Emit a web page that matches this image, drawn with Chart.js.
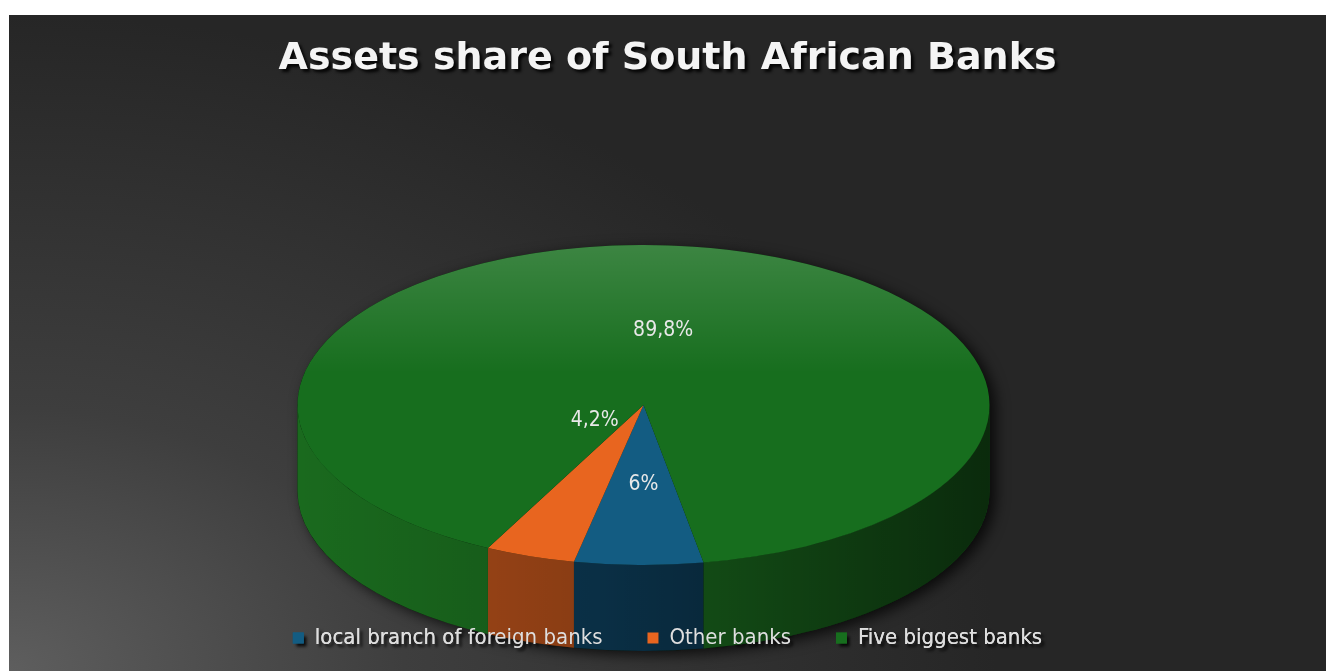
<!DOCTYPE html>
<html>
<head>
<meta charset="utf-8">
<script src="https://cdn.jsdelivr.net/npm/chart.js@4.4.1/dist/chart.umd.min.js"></script>
<style>
  html, body { margin: 0; padding: 0; background: #fff; }
  .chart-box {
    position: absolute; left: 9px; top: 15px; width: 1317px; height: 656px;
    background: radial-gradient(ellipse 75% 100% at 0% 100%, #5e5e5e 0%, #3e3e3e 40%, #262626 100%);
  }
</style>
</head>
<body>
<div class="chart-box"><canvas id="pieChart"></canvas></div>
<script>
const categories = ['local branch of foreign banks', 'Other banks', 'Five biggest banks'];
const shares = [6, 4.2, 89.8];
const shareLabels = ['6%', '4,2%', '89,8%'];

const topColors = ['#135c82', '#e8651f', '#176e1e'];
const sideColors = ['#0c3a55', '#a84a18', '#1a6a1e'];
// where each value label sits, as a fraction of the ellipse radii
const labelFx = [0, 0.43, 0.39];
const labelFy = [0.5, 0.1, 0.47];

// look of the tilted pie (canvas px)
const pie3d = { rx: 346, ry: 160, depth: 86, shiftX: -24, cy: 390 };

const pieChart = document.getElementById('pieChart');

function wallPath(ctx, x, y, r, d, s, e) {
    ctx.beginPath();
    ctx.arc(x, y, r, s, e);
    ctx.arc(x, y + d, r, e, s, true);
    ctx.closePath();
}

const pie3dPlugin = {
    id: 'pie3d',
    beforeDraw(chart) {
        // shadow for the title text
        const ctx = chart.ctx;
        ctx.save();
        ctx.shadowColor = 'rgba(0,0,0,0.85)';
        ctx.shadowOffsetX = 3;
        ctx.shadowOffsetY = 3;
        ctx.shadowBlur = 3;
    },
    beforeDatasetsDraw(chart) {
        const ctx = chart.ctx;
        ctx.restore();
        const arcs = chart.getDatasetMeta(0).data;
        const a0 = arcs[0];
        const R = a0.outerRadius;
        const sy = pie3d.ry / R;
        const d = pie3d.depth / sy;
        const x = a0.x, y = a0.y;

        ctx.save();
        ctx.translate(x + pie3d.shiftX, pie3d.cy);
        ctx.scale(pie3d.rx / R, sy);
        ctx.translate(-x, -y);

        // dark silhouette with drop shadow
        ctx.save();
        ctx.shadowColor = 'rgba(0,0,0,0.75)';
        ctx.shadowBlur = 14;
        ctx.shadowOffsetX = 6;
        ctx.shadowOffsetY = 4;
        ctx.beginPath();
        ctx.arc(x, y, R, Math.PI, 2 * Math.PI);
        ctx.arc(x, y + d, R, 0, Math.PI);
        ctx.closePath();
        ctx.fillStyle = '#0a1a0a';
        ctx.fill();
        ctx.restore();

        // side walls of each slice, front half only
        arcs.forEach((arc, i) => {
            const p = arc.getProps(['startAngle', 'endAngle'], true);
            [-2 * Math.PI, 0, 2 * Math.PI].forEach(base => {
                const s = Math.max(p.startAngle, base);
                const e = Math.min(p.endAngle, base + Math.PI);
                if (e > s) {
                    wallPath(ctx, x, y, R, d, s, e);
                    ctx.fillStyle = sideColors[i];
                    ctx.fill();
                }
            });
        });

        // shade the walls darker to the right
        const g = ctx.createLinearGradient(x - R, 0, x + R, 0);
        g.addColorStop(0, 'rgba(0,0,0,0)');
        g.addColorStop(0.45, 'rgba(0,0,0,0.2)');
        g.addColorStop(1, 'rgba(0,0,0,0.6)');
        wallPath(ctx, x, y, R, d, 0, Math.PI);
        ctx.fillStyle = g;
        ctx.fill();
        // top face is drawn next by Chart.js inside this transform
    },
    afterDatasetsDraw(chart) {
        const ctx = chart.ctx;
        const arcs = chart.getDatasetMeta(0).data;
        const a0 = arcs[0];
        const R = a0.outerRadius;
        const x = a0.x, y = a0.y;

        // soft light on the back of the top face
        ctx.save();
        ctx.beginPath();
        ctx.arc(x, y, R, 0, 2 * Math.PI);
        ctx.clip();
        const g = ctx.createLinearGradient(0, y - R, 0, y - 0.2 * R);
        g.addColorStop(0, 'rgba(255,255,255,0.16)');
        g.addColorStop(1, 'rgba(255,255,255,0)');
        ctx.fillStyle = g;
        ctx.fillRect(x - R, y - R, 2 * R, 0.8 * R);
        ctx.restore();

        ctx.restore(); // end of pie transform

        // value labels
        const cx = x + pie3d.shiftX;
        ctx.save();
        ctx.font = '21px "DejaVu Sans Condensed", "DejaVu Sans"';
        ctx.fillStyle = '#e8e8e8';
        ctx.textAlign = 'center';
        ctx.textBaseline = 'middle';
        arcs.forEach((arc, i) => {
            const p = arc.getProps(['startAngle', 'endAngle'], true);
            const mid = (p.startAngle + p.endAngle) / 2;
            const lx = cx + Math.cos(mid) * pie3d.rx * labelFx[i];
            const ly = pie3d.cy + Math.sin(mid) * pie3d.ry * labelFy[i];
            ctx.fillText(shareLabels[i], lx, ly);
        });
        ctx.restore();

        // legend sits on top of the pie in the original
        chart.legend.draw();
    }
};

new Chart(pieChart, {
    type: 'pie',
    data: {
        labels: categories,
        datasets: [{
            data: shares,
            backgroundColor: topColors,
            borderWidth: 0,
            clip: false
        }]
    },
    options: {
        responsive: true,
        maintainAspectRatio: false,
        animation: false,
        events: [],
        rotation: 170,
        layout: { padding: { bottom: 12 } },
        plugins: {
            title: {
                display: true,
                text: 'Assets share of South African Banks',
                color: '#f4f4f4',
                font: { family: '"DejaVu Sans"', size: 38, weight: 'bold' },
                padding: { top: 21, bottom: 100 }
            },
            legend: {
                position: 'bottom',
                labels: {
                    color: '#dedede',
                    font: { family: '"DejaVu Sans Condensed", "DejaVu Sans"', size: 22 },
                    boxWidth: 11,
                    boxHeight: 11,
                    padding: 45
                }
            },
            tooltip: { enabled: false }
        }
    },
    plugins: [pie3dPlugin]
});
</script>
</body>
</html>
